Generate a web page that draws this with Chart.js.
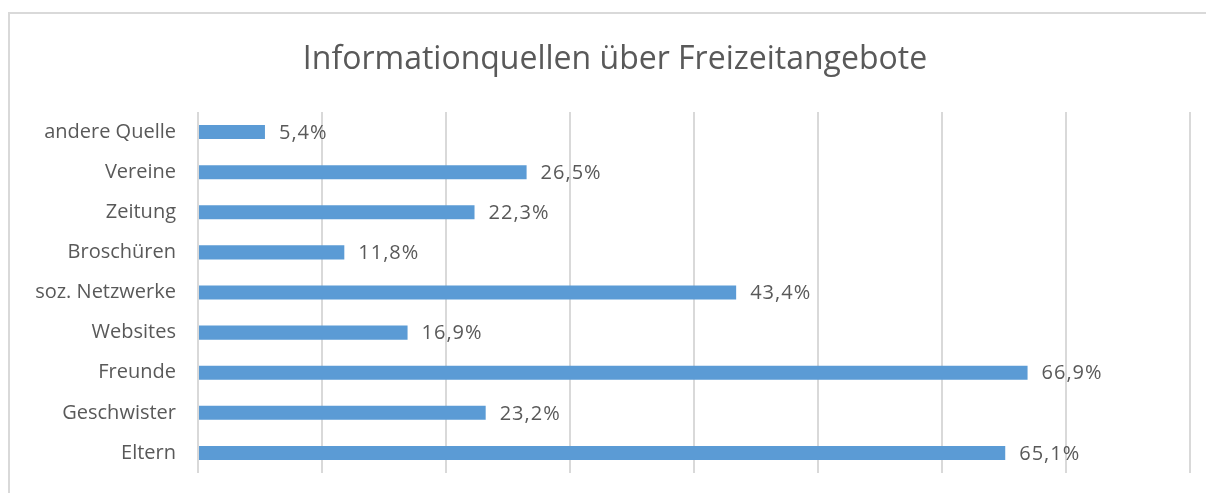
<!DOCTYPE html>
<html>
<head>
<meta charset="utf-8">
<script src="https://cdn.jsdelivr.net/npm/chart.js@4"></script>
<style>
  html, body { margin: 0; padding: 0; background: #fff; }
  #wrap { width: 1206px; height: 493px; }
</style>
</head>
<body>
<div id="wrap"><canvas id="chart"></canvas></div>
<script>
const kategorien = ["andere Quelle", "Vereine", "Zeitung", "Broschüren", "soz. Netzwerke", "Websites", "Freunde", "Geschwister", "Eltern"];
const anteile = [5.4, 26.5, 22.3, 11.8, 43.4, 16.9, 66.9, 23.2, 65.1];
const titel = "Informationquellen über Freizeitangebote";

const schrift = "'Open Sans', sans-serif";
const grau = "#595959";

// Rahmen um das Diagramm und Titel (wie im Excel-Export)
const rahmen = {
  id: "rahmen",
  beforeDraw(chart) {
    const ctx = chart.ctx;
    ctx.save();
    ctx.strokeStyle = "#d9d9d9";
    ctx.lineWidth = 2;
    ctx.beginPath();
    ctx.moveTo(9, 500);
    ctx.lineTo(9, 13);
    ctx.lineTo(1210, 13);
    ctx.stroke();
    ctx.font = "32px " + schrift;
    ctx.fillStyle = grau;
    ctx.textAlign = "center";
    ctx.textBaseline = "middle";
    ctx.fillText(titel, 615, 60);
    ctx.restore();
  }
};

// Werte rechts neben den Balken
const werte = {
  id: "werte",
  afterDatasetsDraw(chart) {
    const ctx = chart.ctx;
    const meta = chart.getDatasetMeta(0);
    ctx.save();
    ctx.font = "20px " + schrift;
    ctx.letterSpacing = "1px";
    ctx.fillStyle = grau;
    ctx.textBaseline = "middle";
    ctx.textAlign = "left";
    meta.data.forEach((bar, i) => {
      const txt = anteile[i].toFixed(1).replace(".", ",") + "%";
      ctx.fillText(txt, bar.x + 14, bar.y + 1);
    });
    ctx.restore();
  }
};

new Chart(document.getElementById("chart"), {
  type: "bar",
  data: {
    labels: kategorien,
    datasets: [{
      data: anteile,
      backgroundColor: "#5b9bd5",
      barPercentage: 0.7,
      categoryPercentage: 0.5
    }]
  },
  options: {
    indexAxis: "y",
    responsive: true,
    maintainAspectRatio: false,
    animation: false,
    layout: { padding: { left: 0, right: 16, top: 112, bottom: 20 } },
    plugins: {
      legend: { display: false },
      tooltip: { enabled: false },
      title: { display: false }
    },
    scales: {
      x: {
        min: 0,
        max: 80,
        ticks: { display: false, stepSize: 10 },
        grid: { color: "#d9d9d9", lineWidth: 2, drawTicks: false },
        border: { display: false },
        afterFit(scale) { scale.height = 0; scale.paddingLeft = 0; scale.paddingRight = 0; }
      },
      y: {
        grid: { display: false },
        border: { display: false },
        ticks: { color: grau, font: { family: schrift, size: 20 }, padding: 14 },
        afterFit(scale) { scale.width = 198; scale.paddingTop = 0; scale.paddingBottom = 0; }
      }
    }
  },
  plugins: [rahmen, werte]
});
</script>
</body>
</html>
